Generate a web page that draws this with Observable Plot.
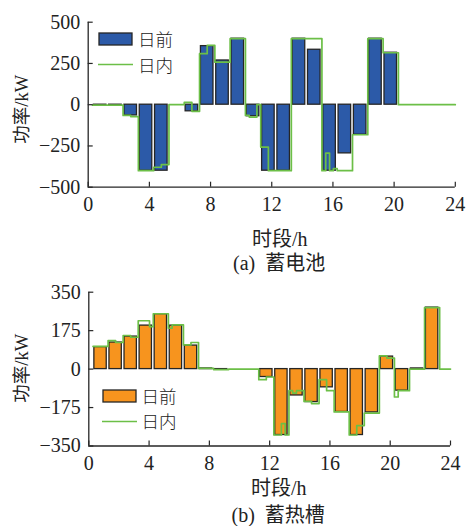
<!DOCTYPE html>
<html>
<head>
<meta charset="utf-8">
<script src="https://cdn.jsdelivr.net/npm/d3@7"></script>
<script src="https://cdn.jsdelivr.net/npm/@observablehq/plot@0.6"></script>
<style>
  html, body { margin: 0; padding: 0; background: #fff; }
  #root { position: relative; width: 468px; height: 526px; overflow: hidden; background: #fff; }
  .abs { position: absolute; }
  .lbl { font-family: "Liberation Serif", "Noto Sans CJK SC", serif; font-size: 20px; color: #222; white-space: nowrap; line-height: 1; }
  .ylbl { font-family: "Liberation Serif", "Noto Sans CJK SC", serif; font-size: 18.5px; color: #222; white-space: nowrap; line-height: 1; }
  .leg { font-family: "Noto Sans CJK SC", sans-serif; font-weight: 300; font-size: 17.5px; color: #222; line-height: 25.5px; white-space: nowrap; }
</style>
</head>
<body>
<div id="root"></div>
<script>
// ---- data ----
const slots = [1,2,3,4,5,6,7,8,9,10,11,12,13,14,15,16,17,18,19,20,21,22,23,24];
const xTicks = [0,4,8,12,16,20,24];

const batteryTicks = [-500,-250,0,250,500];
const batteryDayAhead = [-3,-3,-65,-400,-400,0,-40,355,268,400,-70,-400,-400,400,333,-400,-295,-182,400,315,0,0,0,0];
// intraday, 4 quarter-hour values per slot
const batteryIntraday = [
  -3,-3,-3,-3,   -3,-3,-3,-3,   -65,-65,-72,-72,   -400,-400,-400,-400,
  -379,-379,-363,-363,   0,0,0,0,   14,14,-40,-40,   309,309,359,359,
  258,258,258,258,   400,400,400,400,   -65,-75,-75,0,   -257,-257,-400,-400,
  -400,-400,-400,-400,   400,400,400,400,   400,400,400,400,   -400,-293,-400,-388,
  -400,-400,-400,-400,   -182,-182,-182,-182,   400,400,400,400,   315,315,315,315,
  0,0,0,0,   0,0,0,0,   0,0,0,0,   0,0,0,0
];

const heatTicks = [-350,-175,0,175,350];
const heatDayAhead = [100,121,148,198,250,198,107,3,-2,0,0,-36,-300,-120,-150,-83,-195,-300,-197,57,-98,3,280,0];
const heatIntraday = [
  103,103,103,103,   130,130,121,121,   153,153,145,145,   220,220,220,193,
  252,252,252,252,   186,201,201,201,   110,110,121,121,   3,3,3,3,
  -2,-2,-2,-2,   0,0,0,0,   0,0,0,0,   -48,-48,-36,-36,
  -300,-300,-248,-300,   -98,-109,-98,-98,   -147,-147,-157,-157,   -48,-48,-98,-98,
  -195,-195,-195,-195,   -300,-300,-257,-257,   -200,-200,-200,-200,   60,60,50,50,
  -127,-98,-98,-98,   0,0,0,0,   280,280,280,280,   0,0,0,0
];

const legendLabels = ["日前", "日内"];

const GREEN = "#6cbf47";
const INK = "#262626";

function makeChart({dayAhead, intraday, yTicks, fill, height, marginTop, marginBottom, marginLeft, marginRight}) {
  const width = 468;
  const bars = slots.map((k, i) => ({x1: k - 0.63, x2: k + 0.19, v: dayAhead[i]})).filter(d => d.v !== 0);
  const pts = [];
  slots.forEach((k, i) => {
    [0,1,2,3].forEach(q => {
      const x = k - 0.72 + q * 0.25;
      if (x < 24) pts.push({x, v: intraday[i * 4 + q]});
    });
  });
  pts.push({x: 24, v: pts[pts.length - 1].v});
  const innerH = height - marginTop - marginBottom;
  const innerW = width - marginLeft - marginRight;
  const yDomain = [yTicks[0], yTicks[yTicks.length - 1]];
  return Plot.plot({
    width, height, marginTop, marginBottom, marginLeft, marginRight,
    style: {fontFamily: "'Liberation Serif', serif", fontSize: "20px", color: "#222", background: "transparent", overflow: "visible"},
    x: {domain: [0, 24], axis: null},
    y: {domain: yDomain, axis: null},
    marks: [
      Plot.rect(bars, {x1: "x1", x2: "x2", y1: 0, y2: "v", fill, stroke: INK, strokeWidth: 1.3}),
      Plot.line(pts, {x: "x", y: "v", curve: "step-after", stroke: GREEN, strokeWidth: 1.7}),
      Plot.ruleX([0], {stroke: INK, strokeWidth: 1.3}),
      Plot.ruleY([yDomain[0]], {stroke: INK, strokeWidth: 1.3}),
      Plot.tickX(xTicks, {x: d => d, insetTop: innerH - 5, stroke: INK, strokeWidth: 1.2}),
      Plot.tickY(yTicks, {y: d => d, insetRight: innerW - 5, stroke: INK, strokeWidth: 1.2}),
      Plot.axisX({ticks: xTicks, tickSize: 0, tickPadding: 10, label: null, fontSize: 20}),
      Plot.axisY({ticks: yTicks, tickSize: 0, tickPadding: 8, label: null, fontSize: 20})
    ]
  });
}

const root = document.getElementById("root");

function place(el, left, topPx) {
  el.classList.add("abs");
  el.style.left = left + "px";
  el.style.top = topPx + "px";
  root.appendChild(el);
  return el;
}
function textAt(html, cx, cy, cls = "lbl", rotate = false) {
  const d = document.createElement("div");
  d.className = cls;
  d.innerHTML = html;
  d.classList.add("abs");
  root.appendChild(d);
  const w = d.offsetWidth, h = d.offsetHeight;
  d.style.left = (cx - w / 2) + "px";
  d.style.top = (cy - h / 2) + "px";
  if (rotate) d.style.transform = "rotate(-90deg)";
  return d;
}
function legend(x, y, fill, gap) {
  const s = document.createElementNS("http://www.w3.org/2000/svg", "svg");
  s.setAttribute("width", 40); s.setAttribute("height", gap + 20);
  s.innerHTML = `<rect x="1" y="1" width="33" height="12" fill="${fill}" stroke="${INK}" stroke-width="1.3"/>` +
                `<line x1="0" x2="35" y1="${7 + gap}" y2="${7 + gap}" stroke="${GREEN}" stroke-width="1.7"/>`;
  s.classList.add("abs");
  s.style.left = x + "px"; s.style.top = y + "px";
  root.appendChild(s);
  const t = document.createElement("div");
  t.className = "leg";
  t.innerHTML = legendLabels.join("<br>");
  place(t, x + 40, y + 7 - gap / 2);
}

// top chart: battery
const chartA = makeChart({dayAhead: batteryDayAhead, intraday: batteryIntraday, yTicks: batteryTicks,
  fill: "#2c5aa8", height: 222, marginTop: 21.7, marginBottom: 35.3, marginLeft: 87.7, marginRight: 13.2});
place(chartA, 0, 0);
// bottom chart: heat storage
const chartB = makeChart({dayAhead: heatDayAhead, intraday: heatIntraday, yTicks: heatTicks,
  fill: "#f7941e", height: 200, marginTop: 11.7, marginBottom: 34.5, marginLeft: 88.3, marginRight: 18});
place(chartB, 0, 280);

legend(98, 32, "#2c5aa8", 25.5);
legend(101.5, 388.5, "#f7941e", 25.5);

textAt("功率/kW", 22, 109, "ylbl", true);
textAt("功率/kW", 22, 368, "ylbl", true);
textAt("时段/h", 280, 239);
textAt("时段/h", 279, 488);
textAt("(a)&nbsp;&nbsp;蓄电池", 279, 263);
textAt("(b)&nbsp;&nbsp;蓄热槽", 278, 515);
</script>
</body>
</html>
